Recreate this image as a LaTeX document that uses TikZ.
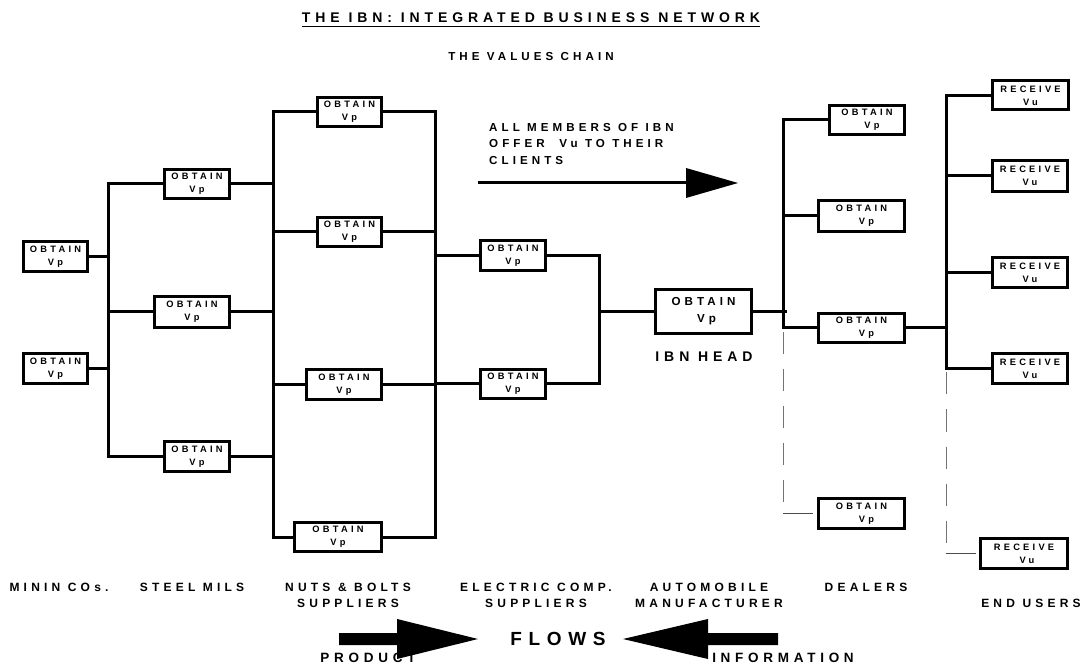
\documentclass[tikz,border=0pt]{standalone}
\usepackage{fontspec}
\newfontfamily\lsf[LetterSpace=35, BoldFont={Liberation Sans Bold}]{Liberation Sans}
\usetikzlibrary{calc}
\newcommand\fs[2]{\lsf\bfseries\fontsize{#1}{#2}\selectfont}
\begin{document}
\begin{tikzpicture}[x=1pt,y=-1pt,
  box/.style={draw, line width=3pt, inner sep=0pt, align=center, font=\fs{9.3}{13}},
  sz/.style 2 args={minimum width=#1pt, minimum height=#2pt},
  conn/.style={line width=3pt, line cap=rect},
  dsh/.style={draw=black!55, line width=1pt, dash pattern=on 22pt off 15pt},
  thinl/.style={draw=black!70, line width=1pt},
  lbl/.style={inner sep=0pt, align=center, font=\fs{12}{16}},
]
\useasboundingbox (0,0) rectangle (1085,668);

% titles
\node[inner sep=0pt, font=\fs{14}{16}] (title) at (531,18) {THE IBN: INTEGRATED BUSINESS NETWORK};
\draw[line width=1.3pt] ($(title.south west)+(0,3)$) -- ($(title.south east)+(0,3)$);
\node[inner sep=0pt, font=\fs{11.6}{14}] (chain) at (531,57) {THE VALUES CHAIN};

% boxes
\node[box, sz={64}{30}] (m1) at (55.5,256.5) {OBTAIN\\Vp};
\node[box, sz={64}{30}] (m2) at (55.5,368.5) {OBTAIN\\Vp};
\node[box, sz={65}{29}] (s1) at (197,184) {OBTAIN\\Vp};
\node[box, sz={75}{31}] (s2) at (192,312) {OBTAIN\\Vp};
\node[box, sz={65}{30}] (s3) at (197,456.5) {OBTAIN\\Vp};
\node[box, sz={64}{29}] (n1) at (349.5,112) {OBTAIN\\Vp};
\node[box, sz={64}{29}] (n2) at (349.5,232) {OBTAIN\\Vp};
\node[box, sz={75}{30}] (n3) at (344,384.5) {OBTAIN\\Vp};
\node[box, sz={87}{29}] (n4) at (338,537) {OBTAIN\\Vp};
\node[box, sz={65}{30}] (e1) at (513,255.5) {OBTAIN\\Vp};
\node[box, sz={65}{29}] (e2) at (513,384) {OBTAIN\\Vp};
\node[box, sz={96}{44}, font=\fs{11.6}{16.7}] (h) at (703.5,311.5) {OBTAIN\\\hspace*{6pt}Vp};
\node[box, sz={75}{29}] (d1) at (867,120) {OBTAIN\\\hspace*{10pt}Vp};
\node[box, sz={86}{31}] (d2) at (861.5,216) {OBTAIN\\\hspace*{10pt}Vp};
\node[box, sz={86}{29}] (d3) at (861.5,328) {OBTAIN\\\hspace*{10pt}Vp};
\node[box, sz={86}{30}] (d4) at (861.5,513.5) {OBTAIN\\\hspace*{10pt}Vp};
\node[box, sz={76}{29}] (u1) at (1030.5,95.5) {RECEIVE\\Vu};
\node[box, sz={75}{31}] (u2) at (1030,176) {RECEIVE\\Vu};
\node[box, sz={75}{30}] (u3) at (1030,272.5) {RECEIVE\\Vu};
\node[box, sz={75}{30}] (u4) at (1030,368.5) {RECEIVE\\Vu};
\node[box, sz={87}{30}] (u5) at (1024,553.5) {RECEIVE\\\hspace*{6pt}Vu};

% bus coordinates
\coordinate (b1) at (108,0);
\coordinate (b2) at (273,0);
\coordinate (b3) at (435,0);
\coordinate (b4) at (599,0);
\coordinate (b5) at (783,0);
\coordinate (b6) at (946,0);

% connectors
\draw[conn] (m1.east) -- (m1.east -| b1);
\draw[conn] (m2.east) -- (m2.east -| b1);
\draw[conn] (s1.west -| b1) -- (s3.west -| b1);
\foreach \n in {s1,s2,s3}{
  \draw[conn] (\n.west -| b1) -- (\n.west);
  \draw[conn] (\n.east) -- (\n.east -| b2);
}
\draw[conn] (n1.west -| b2) -- (n4.west -| b2);
\foreach \n in {n1,n2,n3,n4}{
  \draw[conn] (\n.west -| b2) -- (\n.west);
  \draw[conn] (\n.east) -- (\n.east -| b3);
}
\draw[conn] (n1.east -| b3) -- (n4.east -| b3);
\foreach \n in {e1,e2}{
  \draw[conn] (\n.west -| b3) -- (\n.west);
  \draw[conn] (\n.east) -- (\n.east -| b4);
}
\draw[conn] (e1.east -| b4) -- (e2.east -| b4);
\draw[conn] (h.west -| b4) -- (h.west);
\draw[conn] (h.east) -- ($(h.east -| b5)+(2,0)$);
\draw[conn] (d1.west -| b5) -- (d3.west -| b5);
\foreach \n in {d1,d2,d3}{
  \draw[conn] (\n.west -| b5) -- (\n.west);
}
\draw[dsh] ($(d3.west -| b5)+(0,4)$) -- (d4.west -| b5);
\draw[thinl] (d4.west -| b5) -- ($(d4.west)+(-4,0)$);
\draw[conn] (d3.east) -- (d3.east -| b6);
\draw[conn] (u1.west -| b6) -- (u4.west -| b6);
\foreach \n in {u1,u2,u3,u4}{
  \draw[conn] (\n.west -| b6) -- (\n.west);
}
\draw[dsh] ($(u4.west -| b6)+(0,4)$) -- (u5.west -| b6);
\draw[thinl] (u5.west -| b6) -- ($(u5.west)+(-3,0)$);

% IBN head label
\node[inner sep=0pt, font=\fs{14}{16}] (head) at (704,357) {IBN HEAD};

% all members note and arrow
\node[inner sep=0pt, anchor=north west, align=left, font=\fs{11.6}{16.5}] (note) at (489,123) {ALL MEMBERS OF IBN\\OFFER \ Vu TO THEIR\\CLIENTS};
\coordinate (a0) at (478,183);
\coordinate (a1) at (686,183);
\coordinate (a2) at (738,183);
\draw[line width=3pt] (a0) -- (a1);
\fill ($(a1)+(0,-15)$) -- (a2) -- ($(a1)+(0,15)$) -- cycle;

% column labels
\node[lbl] (l1) at (59,587) {MININ COs.};
\node[lbl] (l2) at (192,587) {STEEL MILS};
\node[lbl] (l3) at (348,595) {NUTS \& BOLTS\\SUPPLIERS};
\node[lbl] (l4) at (536,595) {ELECTRIC COMP.\\SUPPLIERS};
\node[lbl] (l5) at (709,595) {AUTOMOBILE\\MANUFACTURER};
\node[lbl] (l6) at (866,587) {DEALERS};
\node[lbl] (l7) at (1031,603) {END USERS};

% flows
\node[lbl, font=\fs{13.5}{16}] (prod) at (368,658) {PRODUCT};
\node[lbl, font=\fs{13.5}{16}] (info) at (783,658) {INFORMATION};
\node[inner sep=0pt, font=\fs{19}{21}] (flows) at (558,639) {FLOWS};
\coordinate (p0) at (339,639);
\coordinate (p1) at (397,639);
\coordinate (p2) at (478,639);
\fill ($(p0)+(0,-6)$) -- ($(p1)+(0,-6)$) -- ($(p1)+(0,-20)$) -- (p2) -- ($(p1)+(0,20)$) -- ($(p1)+(0,6)$) -- ($(p0)+(0,6)$) -- cycle;
\coordinate (i0) at (778,639);
\coordinate (i1) at (708,639);
\coordinate (i2) at (623,639);
\fill ($(i0)+(0,-6)$) -- ($(i1)+(0,-6)$) -- ($(i1)+(0,-20)$) -- (i2) -- ($(i1)+(0,20)$) -- ($(i1)+(0,6)$) -- ($(i0)+(0,6)$) -- cycle;
\end{tikzpicture}
\end{document}
